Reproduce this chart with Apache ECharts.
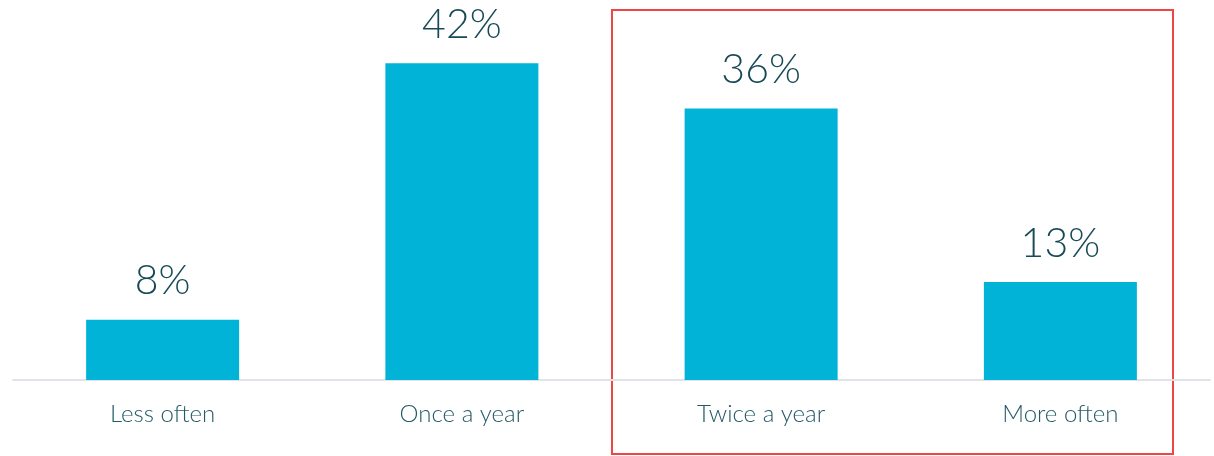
<!DOCTYPE html>
<html lang="en">
<head>
    <meta charset="UTF-8">
    <title>Chart</title>
    <style>
        html, body { margin: 0; padding: 0; background: #fff; }
        #container { width: 1214px; height: 456px; }
    </style>
</head>
<body>
    <div id="container"></div>
    <script src="https://cdn.jsdelivr.net/npm/echarts@6/dist/echarts.min.js"></script>
    <script>
        var categories = ['Less often', 'Once a year', 'Twice a year', 'More often'];
        var values = [8, 42, 36, 13];

        var myChart = echarts.init(document.getElementById('container'));

        var option = {
            animation: false,
            grid: { left: 13, right: 4, top: 3, bottom: 76 },
            xAxis: {
                type: 'category',
                data: categories,
                axisTick: { show: false },
                axisLine: { lineStyle: { color: '#e2e3e8', width: 2 } },
                axisLabel: {
                    color: '#245a66',
                    fontFamily: 'Lato',
                    fontWeight: 300,
                    fontSize: 24,
                    margin: 22
                }
            },
            yAxis: {
                type: 'value',
                min: 0,
                max: 50,
                show: false
            },
            series: [{
                type: 'bar',
                data: values,
                barWidth: 153,
                itemStyle: { color: '#00b3d7' },
                label: {
                    show: true,
                    position: 'top',
                    distance: 18,
                    formatter: '{c}%',
                    color: '#174a56',
                    fontFamily: 'Lato',
                    fontWeight: 300,
                    fontSize: 41
                }
            }],
            graphic: [{
                type: 'rect',
                shape: { x: 612, y: 10, width: 561, height: 444 },
                style: { fill: 'none', stroke: '#f04545', lineWidth: 2 }
            }]
        };

        myChart.setOption(option);
    </script>
</body>
</html>
